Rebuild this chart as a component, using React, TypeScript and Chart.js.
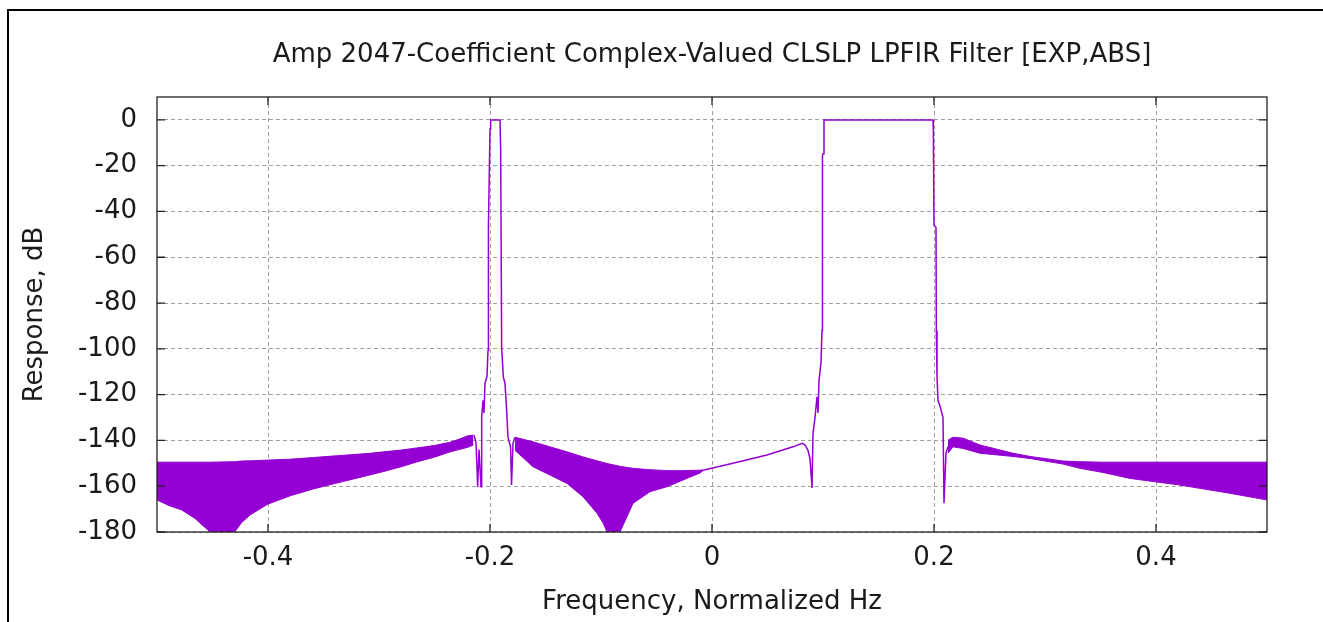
import React, { useEffect, useRef } from "react";
import { Chart, registerables } from "chart.js";

Chart.register(...registerables);

const TITLE = "Amp 2047-Coefficient Complex-Valued CLSLP LPFIR Filter [EXP,ABS]";
const X_TITLE = "Frequency, Normalized Hz";
const Y_TITLE = "Response, dB";

const xTickValues = [-0.4, -0.2, 0, 0.2, 0.4];
const xTickLabels = ["-0.4", "-0.2", "0", "0.2", "0.4"];
const yTickValues = [-180, -160, -140, -120, -100, -80, -60, -40, -20, 0];
const yTickLabels = ["-180", "-160", "-140", "-120", "-100", "-80", "-60", "-40", "-20", "0"];

// Stopband 1 (left), ripple envelope
const band1Freq = [-0.5, -0.489, -0.478, -0.466, -0.458, -0.452, -0.43, -0.424, -0.416, -0.4, -0.38, -0.36, -0.338, -0.31, -0.296, -0.28, -0.266, -0.25, -0.236, -0.228, -0.22, -0.215];
const band1Upper = [-149.5, -149.5, -149.5, -149.5, -149.5, -149.5, -149.3, -149.0, -148.9, -148.6, -148.2, -147.5, -146.7, -145.7, -145.0, -144.2, -143.3, -142.2, -140.8, -139.5, -138.0, -137.7];
const band1Lower = [-166, -168.5, -170.3, -174, -177.5, -180, -180, -176, -172.5, -167.8, -164.2, -161.3, -158.6, -155.3, -153.6, -151.5, -149.4, -147.3, -145, -144, -143, -142];

// Transition around the -0.2 passband
const trans1Freq = [-0.2144, -0.2126, -0.2111, -0.2099, -0.2081, -0.2075, -0.2063, -0.2054, -0.2045, -0.2027, -0.2018, -0.2014, -0.2, -0.1994, -0.191, -0.1904, -0.1895, -0.188, -0.1865, -0.185, -0.1838, -0.1815, -0.1806, -0.1793, -0.1775];
const trans1Resp = [-137.7, -141, -160.2, -144, -160.2, -129.7, -122.5, -128, -115, -112, -100.7, -46, -4, 0, 0, -12.6, -99.2, -112.3, -115, -126.8, -138.6, -142.8, -159.5, -141.3, -138.6];

// Stopband 2 (between passbands), ripple envelope
const band2Freq = [-0.1775, -0.1613, -0.146, -0.1306, -0.1162, -0.1036, -0.0982, -0.0946, -0.0829, -0.0766, -0.0712, -0.0559, -0.0405, -0.0261, -0.0108, -0.0081];
const band2Upper = [-138.6, -140.6, -142.8, -145, -147.2, -148.9, -149.6, -150.1, -151.3, -151.8, -152.2, -152.8, -153.2, -153.2, -153, -152.9];
const band2Lower = [-144.3, -151.5, -155.1, -158.8, -164.6, -171.8, -176, -180, -180, -173.3, -167.5, -162.4, -160.2, -157.3, -154.2, -153.2];

// Narrow stopband + main passband 0.1..0.2
const mainFreq = [-0.0081, 0.0189, 0.0495, 0.073, 0.0811, 0.0838, 0.0865, 0.0883, 0.0901, 0.091, 0.0928, 0.0946, 0.0955, 0.0964, 0.0982, 0.0991, 0.0994, 0.0996, 0.1, 0.1009, 0.1991, 0.1994, 0.2, 0.2018, 0.2021, 0.2027, 0.2036, 0.2054, 0.2081, 0.209, 0.2108, 0.2126];
const mainResp = [-153, -150, -146.4, -142.8, -141.3, -142, -144.3, -148, -160.8, -137, -130, -121, -128, -113.8, -105.9, -92, -52.7, -15.7, -14.8, 0, 0, -4, -46, -47, -92, -112, -122.5, -125, -130, -167.4, -145.6, -142.7];

// Stopband 3 (right), ripple envelope
const band3Freq = [0.2126, 0.2171, 0.2261, 0.2414, 0.2712, 0.2865, 0.3162, 0.3315, 0.3523, 0.3766, 0.4216, 0.4667, 0.5];
const band3Upper = [-139.9, -138.6, -139, -142, -145.6, -147, -149, -149.3, -149.5, -149.5, -149.5, -149.5, -149.5];
const band3Lower = [-145.6, -142.8, -143.5, -145.6, -147, -147.9, -150.3, -152.2, -154, -156.6, -159.5, -163.1, -166];

const PURPLE = "#9400D3";
const FONT = "'DejaVu Sans', sans-serif";
const TEXT = "#1a1a1a";
const FS = 26;

const xy = (f: number[], v: number[]) => f.map((x, i) => ({ x, y: v[i] }));

const framePlugin = {
  id: "framePlugin",
  beforeDraw(chart: any) {
    const ctx = chart.ctx;
    ctx.save();
    ctx.fillStyle = "#ffffff";
    ctx.fillRect(0, 0, chart.width, chart.height);
    ctx.fillStyle = "#000000";
    ctx.fillRect(7, 9, 2, chart.height - 9);
    ctx.fillRect(7, 9, chart.width - 7, 2);
    ctx.restore();
  },
  afterDraw(chart: any) {
    const ctx = chart.ctx;
    const { left, right, top, bottom } = chart.chartArea;
    const xs = chart.scales.x;
    const ys = chart.scales.y;
    ctx.save();
    ctx.strokeStyle = "#222222";
    ctx.lineWidth = 1.3;
    ctx.strokeRect(left, top, right - left, bottom - top);
    ctx.beginPath();
    const tl = 8;
    xTickValues.forEach((v) => {
      const px = xs.getPixelForValue(v);
      ctx.moveTo(px, bottom);
      ctx.lineTo(px, bottom - tl);
      ctx.moveTo(px, top);
      ctx.lineTo(px, top + tl);
    });
    yTickValues.forEach((v) => {
      const py = ys.getPixelForValue(v);
      ctx.moveTo(left, py);
      ctx.lineTo(left + tl, py);
      ctx.moveTo(right, py);
      ctx.lineTo(right - tl, py);
    });
    ctx.stroke();
    ctx.restore();
  },
};

export default function App() {
  const ref = useRef<HTMLCanvasElement | null>(null);

  useEffect(() => {
    if (!ref.current) return;
    const bandStyle = {
      borderColor: PURPLE,
      backgroundColor: PURPLE,
      borderWidth: 1,
      pointRadius: 0,
      tension: 0,
    };
    const chart = new Chart(ref.current, {
      type: "line",
      data: {
        datasets: [
          { ...bandStyle, label: "band1Lower", data: xy(band1Freq, band1Lower), fill: false },
          { ...bandStyle, label: "band1Upper", data: xy(band1Freq, band1Upper), fill: "-1" },
          { ...bandStyle, label: "band2Lower", data: xy(band2Freq, band2Lower), fill: false },
          { ...bandStyle, label: "band2Upper", data: xy(band2Freq, band2Upper), fill: "-1" },
          { ...bandStyle, label: "band3Lower", data: xy(band3Freq, band3Lower), fill: false },
          { ...bandStyle, label: "band3Upper", data: xy(band3Freq, band3Upper), fill: "-1" },
          { label: "trans1", data: xy(trans1Freq, trans1Resp), borderColor: PURPLE, borderWidth: 1.5, pointRadius: 0, fill: false, tension: 0 },
          { label: "main", data: xy(mainFreq, mainResp), borderColor: PURPLE, borderWidth: 1.5, pointRadius: 0, fill: false, tension: 0 },
        ],
      },
      options: {
        responsive: false,
        animation: false,
        devicePixelRatio: 1,
        layout: { padding: { left: 0, right: 56, top: 0, bottom: 0 } },
        plugins: {
          legend: { display: false },
          tooltip: { enabled: false },
          title: {
            display: true,
            text: TITLE,
            fullSize: false,
            color: TEXT,
            font: { family: FONT, size: FS, weight: "normal" },
            padding: { top: 40, bottom: 25.8 },
          },
        },
        scales: {
          x: {
            type: "linear",
            min: -0.5,
            max: 0.5,
            afterBuildTicks: (s: any) => {
              s.ticks = xTickValues.map((value) => ({ value }));
            },
            afterFit: (s: any) => {
              s.height = 90;
            },
            ticks: {
              callback: (_v: any, i: number) => xTickLabels[i],
              color: TEXT,
              font: { family: FONT, size: FS },
              padding: 11,
              maxRotation: 0,
            },
            grid: { color: "#a0a0a0", lineWidth: 1, drawTicks: false },
            border: { display: false, dash: [4, 3] },
            title: {
              display: true,
              text: X_TITLE,
              color: TEXT,
              font: { family: FONT, size: FS },
              padding: { top: 0, bottom: 4 },
            },
          },
          y: {
            type: "linear",
            min: -180,
            max: 10,
            afterBuildTicks: (s: any) => {
              s.ticks = yTickValues.map((value) => ({ value }));
            },
            afterFit: (s: any) => {
              s.width = 157;
            },
            ticks: {
              callback: (_v: any, i: number) => yTickLabels[i],
              color: TEXT,
              font: { family: FONT, size: FS },
              padding: 20,
            },
            grid: { color: "#a0a0a0", lineWidth: 1, drawTicks: false },
            border: { display: false, dash: [4, 3] },
            title: {
              display: true,
              text: Y_TITLE,
              color: TEXT,
              font: { family: FONT, size: FS },
              padding: { top: 20, bottom: 0 },
            },
          },
        },
      },
      plugins: [framePlugin],
    } as any);
    return () => chart.destroy();
  }, []);

  return (
    <div style={{ position: "absolute", left: 0, top: 0, width: 1323, height: 622 }}>
      <canvas ref={ref} width={1323} height={622} style={{ display: "block" }} />
    </div>
  );
}
